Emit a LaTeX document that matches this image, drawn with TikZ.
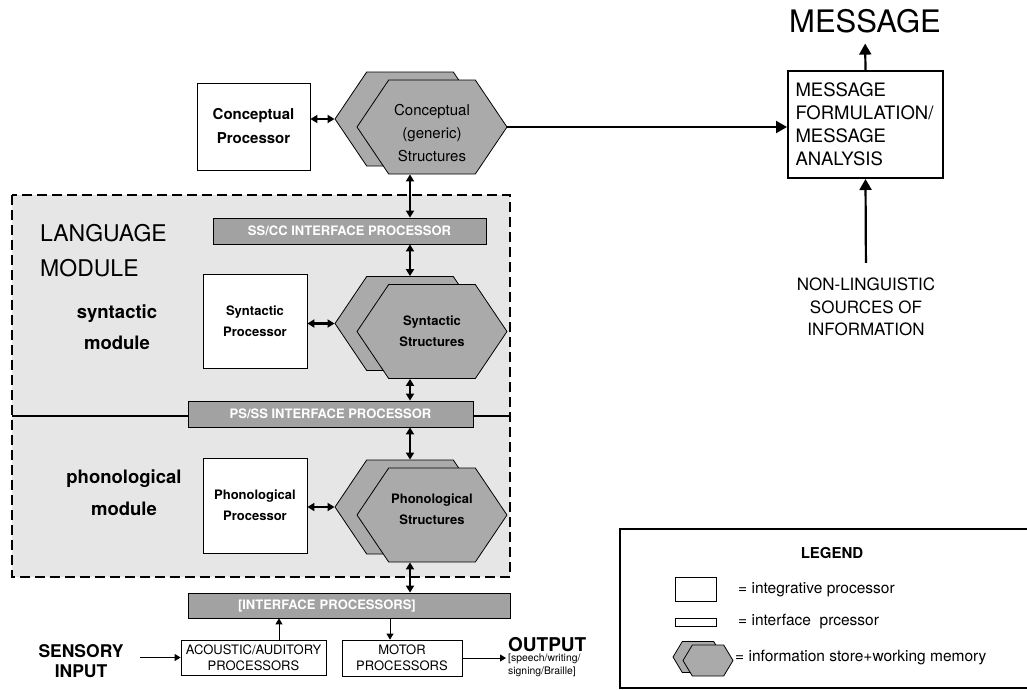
\documentclass[tikz,border=0pt]{standalone}
\usepackage{fontspec}
\setmainfont{TeX Gyre Heros}
\usetikzlibrary{shapes.symbols,arrows.meta}

\begin{document}
\begin{tikzpicture}[x=1pt,y=-1pt,
		prozessor/.style={draw, line width=0.8pt, fill=white, align=center, inner sep=0pt},
		schnittstelle/.style={draw, line width=0.8pt, fill=schnittgrau, text=white, inner sep=0pt, font=\fontsize{13}{15}\selectfont\bfseries},
		speicher/.style={signal, signal to=west and east, signal pointer angle=112, draw, line width=0.8pt, fill=hexgrau, minimum width=150, minimum height=94, inner sep=0pt, align=center},
		pfeil/.style={-{Triangle[length=11pt,width=12pt]}, line width=2.2pt},
		doppelpfeil/.style={{Triangle[length=7pt,width=8pt]}-{Triangle[length=7pt,width=8pt]}, line width=2.2pt},
		duennpfeil/.style={-{Triangle[length=6pt,width=7pt]}, line width=1pt}]

		\definecolor{modulgrau}{HTML}{E6E6E6}
		\definecolor{hexgrau}{HTML}{AAAAAA}
		\definecolor{schnittgrau}{HTML}{A2A2A2}

		% Rahmen
		\useasboundingbox (0,0) rectangle (1027,689);
		% Sprachmodul
		\fill[modulgrau] (12,195) rectangle (510,577);
		\draw[line width=1.5pt] (12,416) -- (510,416);
		\draw[line width=2pt, dash pattern=on 10pt off 5pt] (12,195) rectangle (510,577);
		\node[anchor=west, align=left, inner sep=0pt, font=\fontsize{23}{35}\selectfont] (sprachmodul) at (40,250.5) {LANGUAGE\\MODULE};
		\node[align=center, inner sep=0pt, font=\fontsize{18.5}{31}\selectfont\bfseries] (synmodul) at (117,327.5) {syntactic\\module};
		\node[align=center, inner sep=0pt, font=\fontsize{18.5}{32}\selectfont\bfseries] (phonmodul) at (124,493) {phonological\\module};
		% Prozessoren
		\node[prozessor, minimum width=113, minimum height=87, font=\fontsize{15}{24}\selectfont\bfseries] (konzproz) at (253.5,126.5) {Conceptual\\Processor};
		\node[prozessor, minimum width=104, minimum height=94, font=\fontsize{13}{21}\selectfont\bfseries] (synproz) at (255,321) {Syntactic\\Processor};
		\node[prozessor, minimum width=104, minimum height=95, font=\fontsize{13}{21}\selectfont\bfseries] (phonproz) at (255,505.5) {Phonological\\Processor};
		% Speicher
		\node[speicher] (konzhinten) at (410,119) {};
		\node[speicher, label={[yshift=-6pt, align=center, font=\fontsize{15}{23}\selectfont]center:Conceptual\\(generic)\\Structures}] (konzvorn) at (432,127) {};
		\node[speicher] (synhinten) at (410,323.5) {};
		\node[speicher, font=\fontsize{13}{21}\selectfont\bfseries] (synvorn) at (432,331.5) {Syntactic\\Structures};
		\node[speicher] (phonhinten) at (410,507) {};
		\node[speicher, label={[yshift=6pt, align=center, font=\fontsize{13}{21}\selectfont\bfseries]center:Phonological\\Structures}] (phonvorn) at (432,515) {};
		% Schnittstellen
		\node[schnittstelle, minimum width=273, minimum height=26] (sscc) at (349.5,231) {SS/CC INTERFACE PROCESSOR};
		\node[schnittstelle, minimum width=285, minimum height=26] (psss) at (330.5,414) {PS/SS INTERFACE PROCESSOR};
		\node[schnittstelle, minimum width=322, minimum height=25, text width=222, inner xsep=50pt, align=left] (schnitt) at (349,605.5) {[INTERFACE PROCESSORS]};
		% Peripherie
		\node[prozessor, minimum width=145, minimum height=35, font=\fontsize{13}{16}\selectfont] (akustik) at (253.5,657.5) {ACOUSTIC/AUDITORY\\PROCESSORS};
		\node[prozessor, minimum width=120, minimum height=36, font=\fontsize{13}{16}\selectfont] (motor) at (402,658) {MOTOR\\PROCESSORS};
		\node[align=center, inner sep=0pt, font=\fontsize{17.5}{20}\selectfont\bfseries] (sensor) at (81,661) {SENSORY\\INPUT};
		\node[anchor=base west, inner sep=0pt, font=\fontsize{19}{19}\selectfont\bfseries] (ausgabe) at (508,651) {OUTPUT};
		\node[anchor=north west, align=left, inner sep=0pt, font=\fontsize{10.4}{13}\selectfont] (ausgabetext) at (508,654) {[speech/writing/\\signing/Braille]};
		% Nachricht
		\node[draw, line width=2pt, minimum width=155, minimum height=107, text width=140, inner xsep=7.5pt, align=left, font=\fontsize{18.5}{23}\selectfont] (nachricht) at (865.5,124.5) {MESSAGE\\FORMULATION/\\MESSAGE\\ANALYSIS};
		\node[inner sep=0pt, font=\fontsize{31}{31}\selectfont] (titel) at (865,21.5) {MESSAGE};
		\node[align=center, inner sep=0pt, font=\fontsize{17}{22.5}\selectfont] (quellen) at (866,307) {NON-LINGUISTIC\\SOURCES OF\\INFORMATION};
		% Pfeile
		\draw[doppelpfeil] (konzproz.east |- konzhinten.west) -- (konzhinten.west);
		\draw[doppelpfeil] (synproz.east |- synhinten.west) -- (synhinten.west);
		\draw[doppelpfeil] (phonproz.east |- phonhinten.west) -- (phonhinten.west);
		\draw[doppelpfeil] (konzvorn.south -| konzhinten) -- (sscc.north -| konzhinten);
		\draw[doppelpfeil] (sscc.south -| synhinten) -- (synhinten.north);
		\draw[doppelpfeil] (synvorn.south -| synhinten) -- (psss.north -| synhinten);
		\draw[doppelpfeil] (psss.south -| phonhinten) -- (phonhinten.north);
		\draw[doppelpfeil] (phonvorn.south -| phonhinten) -- (schnitt.north -| phonhinten);
		\draw[pfeil] (konzvorn.east) -- (nachricht.west |- konzvorn.east);
		\draw[pfeil, shorten >=10pt] (nachricht.north) -- (titel.south);
		\draw[pfeil, shorten <=15pt] (quellen.north) -- (nachricht.south);
		\draw[duennpfeil, shorten <=16.5pt] (sensor.east |- akustik.west) -- (akustik.west);
		\draw[duennpfeil] ([xshift=25.5pt]akustik.north) -- ([xshift=25.5pt]akustik.north |- schnitt.south);
		\draw[duennpfeil] ([xshift=-12pt]motor.north |- schnitt.south) -- ([xshift=-12pt]motor.north);
		\draw[duennpfeil, shorten >=2pt] (motor.east) -- (ausgabetext.west |- motor.east);
		% Legende
		\node[draw, line width=2pt, minimum width=415, minimum height=159] (legende) at (827.5,608.5) {};
		\node[inner sep=0pt, font=\fontsize{15}{15}\selectfont\bfseries] (legtitel) at (832,553) {LEGEND};
		\node[prozessor, minimum width=41, minimum height=24] (legproz) at (695.5,589) {};
		\node[anchor=west, inner sep=0pt, font=\fontsize{15.5}{15.5}\selectfont] (legproztext) at (738,590) {= integrative processor};
		\node[prozessor, minimum width=41, minimum height=8] (legschnitt) at (695.5,622) {};
		\node[anchor=west, inner sep=0pt, font=\fontsize{15.5}{15.5}\selectfont] (legschnitttext) at (738,622) {= interface\ \ prcessor};
		\node[speicher, minimum width=50, minimum height=31, signal pointer angle=118] (leghinten) at (698,657) {};
		\node[speicher, minimum width=50, minimum height=31, signal pointer angle=118] (legvorn) at (708,660.5) {};
		\node[anchor=west, inner sep=0pt, font=\fontsize{15.5}{15.5}\selectfont] (legspeichertext) at (735,658) {= information store+working memory};

\end{tikzpicture}
\end{document}
